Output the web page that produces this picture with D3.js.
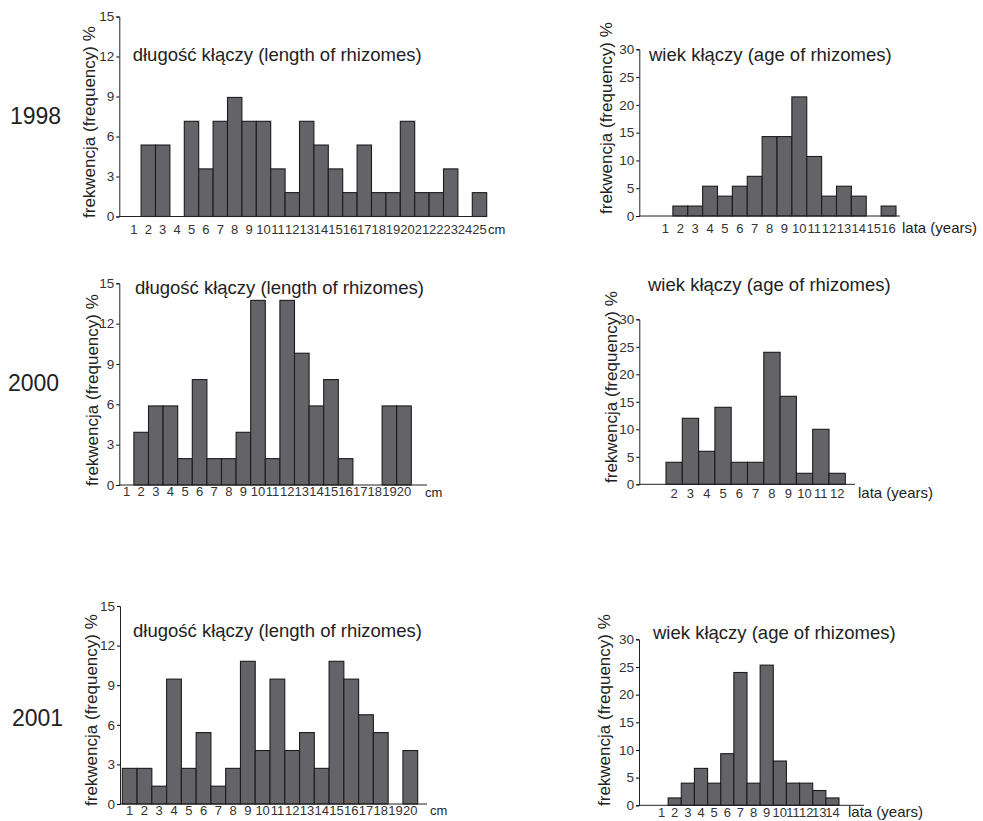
<!DOCTYPE html>
<html>
<head>
<meta charset="utf-8">
<script src="https://cdn.jsdelivr.net/npm/d3@7"></script>
<style>
  body { margin: 0; background: #fff; }
  svg { font-family: "Liberation Sans", Arial, sans-serif; }
</style>
</head>
<body>
<script>
// frequency (%) per class
var lenCm1998 = d3.range(1, 26);
var len1998 = [0, 5.36, 5.36, 0, 7.14, 3.57, 7.14, 8.93, 7.14, 7.14, 3.57, 1.79, 7.14, 5.36, 3.57, 1.79, 5.36, 1.79, 1.79, 7.14, 1.79, 1.79, 3.57, 0, 1.79];
var ageYr1998 = d3.range(1, 17);
var age1998 = [0, 1.79, 1.79, 5.36, 3.57, 5.36, 7.14, 14.29, 14.29, 21.43, 10.71, 3.57, 5.36, 3.57, 0, 1.79];

var lenCm2000 = d3.range(1, 21);
var len2000 = [0, 3.92, 5.88, 5.88, 1.96, 7.84, 1.96, 1.96, 3.92, 13.73, 1.96, 13.73, 9.8, 5.88, 7.84, 1.96, 0, 0, 5.88, 5.88];
var ageYr2000 = d3.range(1, 13);
var age2000 = [0, 4, 12, 6, 14, 4, 4, 24, 16, 2, 10, 2];

var lenCm2001 = d3.range(1, 21);
var len2001 = [2.7, 2.7, 1.35, 9.46, 2.7, 5.41, 1.35, 2.7, 10.81, 4.05, 9.46, 4.05, 5.41, 2.7, 10.81, 9.46, 6.76, 5.41, 0, 4.05];
var ageYr2001 = d3.range(1, 15);
var age2001 = [0, 1.33, 4, 6.67, 4, 9.33, 24, 4, 25.33, 8, 4, 4, 2.67, 1.33];

var lenTicks = [0, 3, 6, 9, 12, 15];
var ageTicks = [0, 5, 10, 15, 20, 25, 30];
var years = ["1998", "2000", "2001"];
var lenTitle = "długość kłączy (length of rhizomes)";
var ageTitle = "wiek kłączy (age of rhizomes)";
var yTitle = "frekwencja (frequency) %";

var width = 983, height = 821;

var svg = d3.select("body")
    .append("svg")
    .attr("width", width)
    .attr("height", height);

// one histogram panel
var drawPanel = (p) => {
    var g = svg.append("g");

    var x = d3.scaleBand()
        .domain(p.cats)
        .range([p.x0, p.x1])
        .padding(0);

    var y = d3.scaleLinear()
        .domain([0, p.ymax])
        .range([p.y0, p.ytop]);

    // bars
    g.selectAll("rect")
        .data(p.values.map((v, i) => ({ c: p.cats[i], v: v })).filter(d => d.v > 0))
        .enter().append("rect")
        .attr("x", d => x(d.c))
        .attr("width", x.bandwidth())
        .attr("y", d => y(d.v))
        .attr("height", d => y(0) - y(d.v))
        .attr("fill", "#646468")
        .attr("stroke", "#1c1c1c")
        .attr("stroke-width", 1.1);

    // y axis
    g.append("g")
        .attr("transform", `translate(${p.ax},0)`)
        .style("font-size", "13.5px")
        .call(d3.axisLeft(y).tickValues(p.ticks).tickSize(3).tickPadding(2))
        .call(a => a.select(".domain").attr("stroke", "#222"))
        .call(a => a.selectAll("text").attr("fill", "#333").style("font-family", "Liberation Sans, Arial, sans-serif"));

    // x labels, no ticks
    g.append("g")
        .attr("transform", `translate(0,${p.y0})`)
        .style("font-size", "13px")
        .call(d3.axisBottom(x).tickValues(p.labels).tickSize(0).tickPadding(p.pad))
        .call(a => a.select(".domain").remove())
        .call(a => a.selectAll("text").attr("fill", "#333").style("font-family", "Liberation Sans, Arial, sans-serif"));

    // baseline extends past the bars
    g.append("line")
        .attr("x1", p.ax).attr("x2", p.axEnd)
        .attr("y1", p.y0).attr("y2", p.y0)
        .attr("stroke", "#222");

    g.append("text")
        .attr("x", p.unitX).attr("y", p.unitY)
        .attr("font-size", p.unitFs + "px")
        .attr("fill", "#222")
        .text(p.unit);

    g.append("text")
        .attr("x", p.tx).attr("y", p.ty)
        .attr("font-size", "18.5px")
        .attr("fill", "#222")
        .text(p.title);

    g.append("text")
        .attr("transform", `translate(${p.lx},${p.ly}) rotate(-90)`)
        .attr("font-size", "17px")
        .attr("fill", "#222")
        .text(yTitle);
};

drawPanel({ cats: lenCm1998, values: len1998, labels: lenCm1998, ticks: lenTicks, ymax: 15,
    x0: 126.7, x1: 486.7, ax: 119.3, axEnd: 487, y0: 216.5, ytop: 16.5, pad: 8,
    unit: "cm", unitX: 488, unitY: 233.5, unitFs: 13,
    title: lenTitle, tx: 132.7, ty: 60.5, lx: 95, ly: 218 });

drawPanel({ cats: ageYr1998, values: age1998, labels: ageYr1998, ticks: ageTicks, ymax: 30,
    x0: 658, x1: 896, ax: 639.3, axEnd: 900, y0: 216, ytop: 49.3, pad: 8,
    unit: "lata (years)", unitX: 902, unitY: 233, unitFs: 15,
    title: ageTitle, tx: 649, ty: 60.5, lx: 612, ly: 214 });

drawPanel({ cats: lenCm2000, values: len2000, labels: lenCm2000, ticks: lenTicks, ymax: 15,
    x0: 119.3, x1: 411.3, ax: 119.3, axEnd: 427, y0: 485, ytop: 283.3, pad: 2,
    unit: "cm", unitX: 425, unitY: 496.5, unitFs: 13,
    title: lenTitle, tx: 135, ty: 293.5, lx: 98, ly: 486 });

drawPanel({ cats: ageYr2000, values: age2000, labels: ageYr2000.slice(1), ticks: ageTicks, ymax: 30,
    x0: 649.7, x1: 845.3, ax: 639.3, axEnd: 855, y0: 484.3, ytop: 319.3, pad: 4,
    unit: "lata (years)", unitX: 858, unitY: 497.7, unitFs: 15,
    title: ageTitle, tx: 648, ty: 290.5, lx: 617, ly: 483 });

drawPanel({ cats: lenCm2001, values: len2001, labels: lenCm2001, ticks: lenTicks, ymax: 15,
    x0: 122.3, x1: 417.7, ax: 120, axEnd: 427, y0: 804, ytop: 606, pad: 2,
    unit: "cm", unitX: 430, unitY: 815, unitFs: 13,
    title: lenTitle, tx: 133, ty: 637, lx: 97, ly: 806 });

drawPanel({ cats: ageYr2001, values: age2001, labels: ageYr2001, ticks: ageTicks, ymax: 30,
    x0: 655, x1: 839, ax: 639, axEnd: 864, y0: 805.3, ytop: 639.3, pad: 2,
    unit: "lata (years)", unitX: 848, unitY: 817, unitFs: 15,
    title: ageTitle, tx: 653, ty: 639, lx: 610, ly: 806 });

// year labels on the left
svg.selectAll(".year")
    .data(years)
    .enter().append("text")
    .attr("class", "year")
    .attr("x", (d, i) => [10, 8, 12][i])
    .attr("y", (d, i) => [124, 391, 726][i])
    .attr("font-size", "23px")
    .attr("fill", "#222")
    .text(d => d);
</script>
</body>
</html>
